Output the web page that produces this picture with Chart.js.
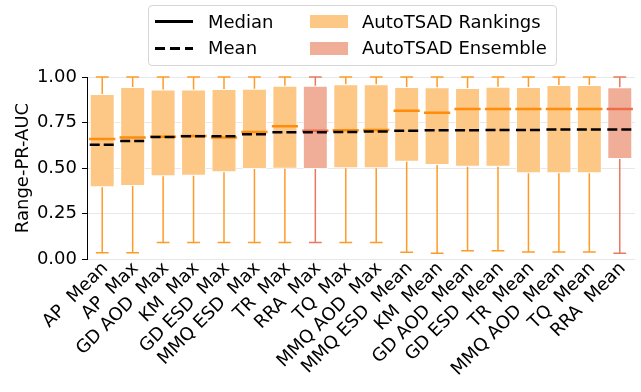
<!DOCTYPE html>
<html>
<head>
<meta charset="utf-8">
<script src="https://cdn.jsdelivr.net/npm/chart.js@4.4.1/dist/chart.umd.min.js"></script>
<style>
	body { margin: 0; background: #fff; }
	#wrap { position: relative; width: 641px; height: 392px; font-family: 'DejaVu Sans'; }
	#legend {
		position: absolute; left: 148px; top: 5px; width: 407px; height: 59px;
		border: 1px solid #d6d6d6; border-radius: 4px; background: rgba(255,255,255,0.85);
	}
	#legend .txt { position: absolute; font-size: 18px; line-height: 18px; color: #000; white-space: nowrap; }
	#legend .swatch { position: absolute; width: 38px; height: 13px; }
	#legend .ln { position: absolute; width: 38px; height: 3px; }
</style>
</head>
<body>
<div id="wrap">
	<canvas id="boxChart" width="641" height="392"></canvas>
	<div id="legend"></div>
</div>
<script>
// category labels (method + aggregation)
const labels = [
	'AP  Mean', 'AP  Max', 'GD AOD  Max', 'KM  Max', 'GD ESD  Max', 'MMQ ESD  Max',
	'TR  Max', 'RRA  Max', 'TQ  Max', 'MMQ AOD  Max', 'MMQ ESD  Mean', 'KM  Mean',
	'GD AOD  Mean', 'GD ESD  Mean', 'TR  Mean', 'MMQ AOD  Mean', 'TQ  Mean', 'RRA  Mean'
];
// which boxes belong to the ensemble
const isEnsemble = [false, false, false, false, false, false, false, true, false, false,
	false, false, false, false, false, false, false, true];

// box plot statistics
const whiskerLow = [0.035, 0.035, 0.09, 0.09, 0.09, 0.09, 0.09, 0.09, 0.09, 0.09,
	0.037, 0.031, 0.046, 0.046, 0.038, 0.038, 0.038, 0.031];
const q1 = [0.394, 0.401, 0.454, 0.458, 0.476, 0.494, 0.496, 0.494, 0.498, 0.498,
	0.535, 0.516, 0.507, 0.507, 0.471, 0.471, 0.471, 0.549];
const median = [0.659, 0.667, 0.672, 0.676, 0.668, 0.698, 0.729, 0.705, 0.707, 0.709,
	0.815, 0.804, 0.824, 0.824, 0.824, 0.824, 0.824, 0.824];
const mean = [0.628, 0.648, 0.670, 0.675, 0.674, 0.685, 0.696, 0.696, 0.698, 0.700,
	0.705, 0.707, 0.707, 0.709, 0.709, 0.711, 0.711, 0.712];
const q3 = [0.907, 0.945, 0.932, 0.932, 0.934, 0.936, 0.952, 0.952, 0.960, 0.960,
	0.945, 0.943, 0.940, 0.947, 0.945, 0.956, 0.956, 0.943];
const whiskerHigh = [1.0, 1.0, 1.0, 1.0, 1.0, 1.0, 1.0, 1.0, 1.0, 1.0,
	1.0, 1.0, 1.0, 1.0, 1.0, 1.0, 1.0, 1.0];

const yTicks = [0, 0.25, 0.5, 0.75, 1.0];

const rankFill = '#fdc786';
const rankLine = '#ff9a26';
const rankMedian = '#ff8c0a';
const ensFill = '#f0ae98';
const ensLine = '#ea7860';
const ensMedian = '#ee6c48';

// horizontal segments centred on each box, null points break the line
function hSegs(values, half, ens) {
	let pts = [];
	values.forEach((v, i) => {
		if (isEnsemble[i] !== ens) return;
		pts.push({ x: i - half, y: v }, { x: i + half, y: v }, { x: i, y: null });
	});
	return pts;
}

function whiskerSegs(ens) {
	let pts = [];
	labels.forEach((l, i) => {
		if (isEnsemble[i] !== ens) return;
		pts.push({ x: i, y: whiskerLow[i] }, { x: i, y: q1[i] }, { x: i, y: null });
		pts.push({ x: i, y: q3[i] }, { x: i, y: whiskerHigh[i] }, { x: i, y: null });
	});
	return pts;
}

function lineSet(data, color, width, order, dash) {
	return {
		type: 'line',
		xAxisID: 'xl',
		data: data,
		borderColor: color,
		borderWidth: width,
		borderDash: dash || [],
		pointRadius: 0,
		spanGaps: false,
		fill: false,
		clip: false,
		order: order,
	};
}

const boxRank = q1.map((v, i) => (isEnsemble[i] ? null : [v, q3[i]]));
const boxEns = q1.map((v, i) => (isEnsemble[i] ? [v, q3[i]] : null));

const ctx = document.getElementById('boxChart').getContext('2d');
Chart.defaults.font.family = 'DejaVu Sans';
Chart.defaults.font.size = 18;
Chart.defaults.color = '#000';

const boxChart = new Chart(ctx, {
	type: 'bar',
	data: {
		labels: labels,
		datasets: [
			{
				label: 'AutoTSAD Rankings',
				data: boxRank,
				backgroundColor: rankFill,
				borderColor: 'rgba(255,255,255,0.7)',
				borderWidth: 1,
				borderSkipped: false,
				grouped: false,
				barPercentage: 0.82,
				categoryPercentage: 1,
				order: 5,
			},
			{
				label: 'AutoTSAD Ensemble',
				data: boxEns,
				backgroundColor: ensFill,
				borderColor: 'rgba(255,255,255,0.7)',
				borderWidth: 1,
				borderSkipped: false,
				grouped: false,
				barPercentage: 0.82,
				categoryPercentage: 1,
				order: 5,
			},
			lineSet(whiskerSegs(false), rankLine, 1.5, 4),
			lineSet(whiskerSegs(true), ensLine, 1.5, 4),
			lineSet(hSegs(whiskerLow, 0.21, false), rankLine, 1.5, 4),
			lineSet(hSegs(whiskerHigh, 0.21, false), rankLine, 1.5, 4),
			lineSet(hSegs(whiskerLow, 0.21, true), ensLine, 1.5, 4),
			lineSet(hSegs(whiskerHigh, 0.21, true), ensLine, 1.5, 4),
			lineSet(hSegs(median, 0.43, false), rankMedian, 2.5, 2),
			lineSet(hSegs(median, 0.43, true), ensMedian, 2.5, 2),
			lineSet(hSegs(mean, 0.41, false), '#000', 2.5, 1, [10, 4]),
			lineSet(hSegs(mean, 0.41, true), '#000', 2.5, 1, [10, 4]),
		],
	},
	options: {
		responsive: false,
		animation: false,
		layout: { padding: { top: 77, right: 6, left: 0, bottom: 0 } },
		plugins: {
			legend: { display: false },
			tooltip: { enabled: false },
		},
		scales: {
			x: {
				type: 'category',
				offset: true,
				grid: { display: false, drawTicks: false },
				border: { display: false },
				ticks: {
					autoSkip: false,
					maxRotation: 45,
					minRotation: 45,
					labelOffset: 3,
					padding: -1,
				},
				afterFit: (scale) => {
					scale.height = 133;
				},
			},
			xl: {
				type: 'linear',
				display: false,
				offset: false,
				grid: { offset: false },
				min: -0.5,
				max: labels.length - 0.5,
			},
			y: {
				min: 0,
				max: 1,
				afterBuildTicks: (scale) => {
					scale.ticks = yTicks.map((v) => ({ value: v }));
				},
				ticks: {
					padding: 5,
					callback: (v) => Number(v).toFixed(2),
				},
				grid: { color: '#e8e8e8', tickColor: '#000', tickLength: 5, lineWidth: 1 },
				border: { color: '#000', width: 1 },
				title: { display: true, text: 'Range-PR-AUC', padding: { top: 13, bottom: 0 } },
				afterFit: (scale) => {
					scale.width = 87;
				},
			},
		},
	},
});

// legend laid out as two columns inside a framed box
const legendItems = [
	{ kind: 'line', dash: false, text: 'Median', col: 0, row: 0 },
	{ kind: 'line', dash: true, text: 'Mean', col: 0, row: 1 },
	{ kind: 'box', color: rankFill, text: 'AutoTSAD Rankings', col: 1, row: 0 },
	{ kind: 'box', color: ensFill, text: 'AutoTSAD Ensemble', col: 1, row: 1 },
];
const legend = document.getElementById('legend');
legendItems.forEach((item) => {
	let markLeft = item.col === 0 ? 6 : 161;
	let textLeft = item.col === 0 ? 59 : 213;
	let rowMid = item.row === 0 ? 15.5 : 42;
	let mark = document.createElement('div');
	if (item.kind === 'line') {
		mark.className = 'ln';
		mark.style.top = rowMid - 1.5 + 'px';
		mark.style.left = markLeft + 'px';
		mark.style.background = item.dash
			? 'repeating-linear-gradient(to right, #000 0 10px, transparent 10px 15px)'
			: '#000';
	} else {
		mark.className = 'swatch';
		mark.style.top = rowMid - 6.5 + 'px';
		mark.style.left = markLeft + 'px';
		mark.style.background = item.color;
	}
	legend.appendChild(mark);
	let txt = document.createElement('span');
	txt.className = 'txt';
	txt.textContent = item.text;
	txt.style.left = textLeft + 'px';
	txt.style.top = rowMid - 9 + 'px';
	legend.appendChild(txt);
});
</script>
</body>
</html>
